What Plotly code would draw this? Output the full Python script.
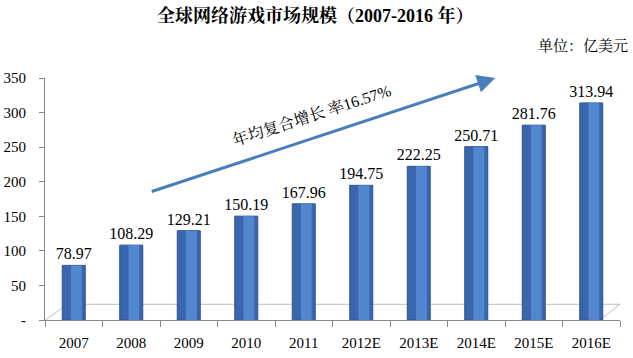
import plotly.graph_objects as go

years = ["2007", "2008", "2009", "2010", "2011", "2012E", "2013E", "2014E", "2015E", "2016E"]
values = [78.97, 108.29, 129.21, 150.19, 167.96, 194.75, 222.25, 250.71, 281.76, 313.94]
ytick_vals = [0, 50, 100, 150, 200, 250, 300, 350]
ytick_text = ["-", "50", "100", "150", "200", "250", "300", "350"]

FONT = "Liberation Serif, 'Noto Serif CJK SC', 'Noto Sans CJK SC', serif"

fig = go.Figure()
fig.add_trace(go.Bar(
    x=years, y=values, width=0.4,
    marker=dict(color="#3A66AE", line=dict(color="#2E5290", width=1)),
    text=[f"{v:.2f}" for v in values], textposition="outside",
    textfont=dict(family=FONT, size=16, color="#000000"),
    constraintext="none", cliponaxis=False, hoverinfo="skip",
))
fig.add_trace(go.Bar(
    x=years, y=values, width=0.19, offset=-0.05,
    marker=dict(color="#5286CF", line=dict(width=0)),
    hoverinfo="skip",
))

fig.update_layout(
    width=633, height=358,
    margin=dict(l=45, r=13, t=78, b=38),
    paper_bgcolor="white", plot_bgcolor="white",
    barmode="overlay", showlegend=False,
    font=dict(family=FONT, size=14, color="#000000"),
    xaxis=dict(type="category", showgrid=False, showline=True, linecolor="#868686", linewidth=1,
               ticks="outside", tickson="boundaries", ticklen=6, tickcolor="#868686",
               ticklabelstandoff=9, automargin=False, tickfont=dict(family=FONT, size=15)),
    yaxis=dict(range=[0, 350], tickvals=ytick_vals, ticktext=ytick_text, showgrid=False,
               showline=True, linecolor="#868686", linewidth=1, ticks="outside", ticklen=5,
               tickcolor="#868686", ticklabelstandoff=10, automargin=False,
               tickfont=dict(family=FONT, size=15), zeroline=False),
    shapes=[
        dict(type="path", xref="paper", yref="paper", layer="below",
             path="M 0,0 L 0.04,0.065 L 1.0,0.065 L 0.965,0", line=dict(color="#BFBFBF", width=1)),
    ],
    annotations=[
        dict(text="<b>全球网络游戏市场规模（2007-2016 年）</b>", xref="paper", yref="paper",
             x=0.47, y=1, xanchor="center", yanchor="bottom", yshift=50, showarrow=False,
             font=dict(family=FONT, size=18)),
        dict(text="单位：亿美元", xref="paper", yref="paper", x=1.0, y=1, xanchor="right",
             yanchor="bottom", xshift=10, yshift=22, showarrow=False, font=dict(family=FONT, size=15)),
        dict(text="", xref="paper", yref="paper", x=0.783, y=1.0, ax=-345, ay=114,
             showarrow=True, arrowhead=2, arrowsize=1.2, arrowwidth=3, arrowcolor="#4A7EBB"),
        dict(text="年均复合增长 率16.57%", xref="paper", yref="paper", x=0.464, y=0.973,
             yshift=6, showarrow=False, textangle=-18, font=dict(family=FONT, size=16)),
    ],
)

fig.write_html("out.html", config={"displayModeBar": False},
               post_script="document.body.style.margin='0';")
